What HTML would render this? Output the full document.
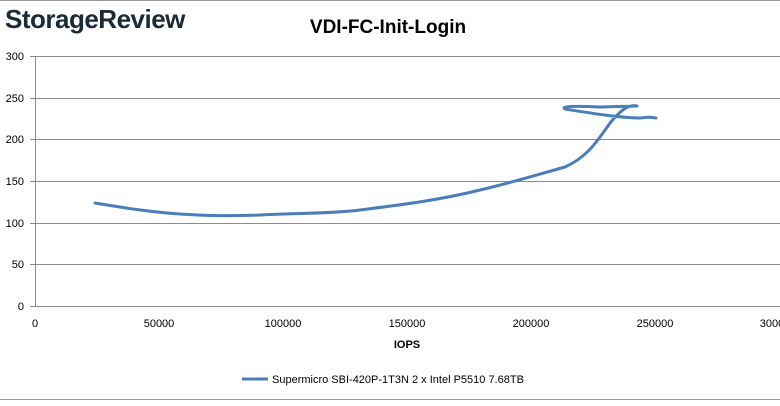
<!DOCTYPE html>
<html><head><meta charset="utf-8"><style>
body{margin:0;background:#fff;width:780px;height:401px;overflow:hidden;font-family:"Liberation Sans",sans-serif}
</style></head><body>
<svg width="780" height="401" viewBox="0 0 780 401" xmlns="http://www.w3.org/2000/svg" font-family="Liberation Sans, sans-serif">
<line x1="0" y1="0.5" x2="780" y2="0.5" stroke="#999" stroke-width="1"/>
<line x1="0" y1="399.5" x2="780" y2="399.5" stroke="#999" stroke-width="1"/>
<text x="5" y="28" font-size="26" fill="#1a2a36" font-weight="bold" letter-spacing="-0.5">StorageReview</text>
<text x="388" y="33" font-size="19" font-weight="bold" text-anchor="middle" fill="#000">VDI-FC-Init-Login</text>
<g stroke="#8c8c8c" stroke-width="1">
<line x1="30" y1="56.5" x2="780" y2="56.5"/>
<line x1="30" y1="98.5" x2="780" y2="98.5"/>
<line x1="30" y1="139.5" x2="780" y2="139.5"/>
<line x1="30" y1="181.5" x2="780" y2="181.5"/>
<line x1="30" y1="223.5" x2="780" y2="223.5"/>
<line x1="30" y1="264.5" x2="780" y2="264.5"/>
<line x1="30" y1="306.5" x2="780" y2="306.5"/>
<line x1="35.5" y1="56" x2="35.5" y2="306"/>
</g>
<g font-size="11" fill="#000" text-anchor="end">
<text x="24" y="60">300</text><text x="24" y="102">250</text><text x="24" y="143">200</text>
<text x="24" y="185">150</text><text x="24" y="227">100</text><text x="24" y="268">50</text><text x="24" y="310">0</text>
</g>
<g font-size="11" fill="#000" text-anchor="middle">
<text x="35" y="327">0</text><text x="159" y="327">50000</text><text x="283" y="327">100000</text>
<text x="407" y="327">150000</text><text x="531" y="327">200000</text><text x="655" y="327">250000</text><text x="772" y="327">3000</text>
</g>
<text x="407" y="348" font-size="11" font-weight="bold" text-anchor="middle">IOPS</text>
<path d="M95,203 C125,208 150,212 180,214 C210,216 230,216 260,215 C290,213 330,214 360,210 C400,205 440,200 480,190 C510,183 540,174 565,167 C585,158 595,145 610,123 C620,111 628,104 637,106 L600,107 C575,106 560,106 565,109 C590,113 620,118 640,118 C645,118 648,116 656,118" fill="none" stroke="#4a7ebb" stroke-width="3" stroke-linecap="round" stroke-linejoin="round"/>
<line x1="242" y1="379" x2="268" y2="379" stroke="#4a7ebb" stroke-width="3"/>
<text x="272" y="383" font-size="11" fill="#000">Supermicro SBI-420P-1T3N 2 x Intel P5510 7.68TB</text>
</svg>
</body></html>
